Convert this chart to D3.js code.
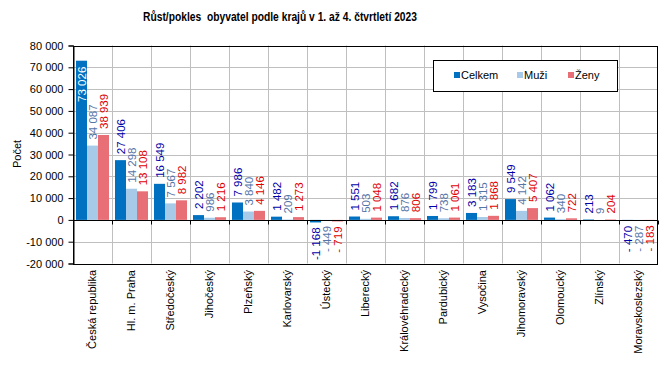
<!DOCTYPE html>
<html><head><meta charset="utf-8">
<script src="https://cdn.jsdelivr.net/npm/d3@7"></script>
<style>body{margin:0;background:#fff}svg{display:block}</style>
</head><body>
<script>
const categories = ["Česká republika","Hl. m. Praha","Středočeský","Jihočeský","Plzeňský","Karlovarský","Ústecký","Liberecký","Královéhradecký","Pardubický","Vysočina","Jihomoravský","Olomoucký","Zlínský","Moravskoslezský"];
const seriesNames = ["Celkem","Muži","Ženy"];
const celkem = [73026,27406,16549,2202,7986,1482,-1168,1551,1682,1799,3183,9549,1062,213,-470];
const muzi = [34087,14298,7567,986,3840,209,-449,503,876,738,1315,4142,340,9,-287];
const zeny = [38939,13108,8982,1216,4146,1273,-719,1048,806,1061,1868,5407,722,204,-183];
const yTicks = [-20000,-10000,0,10000,20000,30000,40000,50000,60000,70000,80000];
const title = "Růst/pokles  obyvatel podle krajů v 1. až 4. čtvrtletí 2023";
const yTitle = "Počet";

const W = 666, H = 370;
const L = 73, R = 658, T = 45.5, B = 263.5;
const colors = {"Celkem":"#0070C0","Muži":"#A6CAE8","Ženy":"#E96F77"};
const labelColors = {"Celkem":"#0000A8","Muži":"#5574A8","Ženy":"#E00000"};
const values = {"Celkem":celkem,"Muži":muzi,"Ženy":zeny};

const loc = d3.formatLocale({decimal:",",thousands:"\u00a0",grouping:[3],currency:["",""]});
const fmtAbs = loc.format(",d");
function fmt(v){
  if (v < 0) return Math.abs(v) < 1000 ? "- " + fmtAbs(-v) : "-" + fmtAbs(-v);
  return fmtAbs(v);
}

const svg = d3.select("body").append("svg").attr("width",W).attr("height",H)
  .style("font-family","'Liberation Sans', Arial, sans-serif");

const x0 = d3.scaleBand().domain(categories).range([L,R]).paddingInner(0.154).paddingOuter(0.077);
const x1 = d3.scaleBand().domain(seriesNames).range([0,x0.bandwidth()]);
const y = d3.scaleLinear().domain([-20000,80000]).range([B,T]);
const step = x0.step();

// gridlines
const g = svg.append("g");
g.selectAll("line.h").data(yTicks).join("line")
  .attr("x1",L).attr("x2",R).attr("y1",d=>Math.round(y(d))+0.5).attr("y2",d=>Math.round(y(d))+0.5)
  .attr("stroke","#BFBFBF").attr("stroke-width",1);
g.selectAll("line.v").data(categories.slice(1)).join("line")
  .attr("x1",d=>Math.round(x0(d)-x0.step()*0.077)+0.5).attr("x2",d=>Math.round(x0(d)-x0.step()*0.077)+0.5)
  .attr("y1",T).attr("y2",B).attr("stroke","#BFBFBF").attr("stroke-width",1);

// bars
const rows = categories.map((c,i)=>({c, vals: seriesNames.map(s=>({s, v: values[s][i], c}))}));
const grp = svg.selectAll("g.cat").data(rows).join("g").attr("transform",d=>`translate(${x0(d.c)},0)`);
grp.selectAll("rect").data(d=>d.vals).join("rect")
  .attr("x",d=>x1(d.s)).attr("width",x1.bandwidth())
  .attr("y",d=>y(Math.max(0,d.v))).attr("height",d=>Math.abs(y(d.v)-y(0)))
  .attr("fill",d=>colors[d.s]);

// frame
svg.append("rect").attr("x",L+0.5).attr("y",Math.round(T)+0.5).attr("width",R-L-1).attr("height",Math.round(B)-Math.round(T))
  .attr("fill","none").attr("stroke","#000").attr("stroke-width",1);

// y axis
const yAxis = d3.axisLeft(y).tickValues(yTicks).tickSize(5).tickPadding(5);
const ya = svg.append("g").attr("transform",`translate(${L+0.5},0)`).call(yAxis);
ya.select(".domain").attr("stroke","#000");
ya.selectAll(".tick line").attr("stroke","#000");
ya.selectAll("text").attr("font-size",11).attr("fill","#000").attr("font-family","'Liberation Sans', Arial, sans-serif")
  .text(d=>d<0 ? "-" + fmtAbs(-d) : fmtAbs(d));

// zero line with category ticks
const y0 = Math.round(y(0))+0.5;
svg.append("line").attr("x1",L).attr("x2",R).attr("y1",y0).attr("y2",y0).attr("stroke","#000");
const bounds = d3.range(categories.length+1).map(i=>L + i*step);
svg.selectAll("line.xt").data(bounds).join("line")
  .attr("x1",d=>Math.round(d)+0.5).attr("x2",d=>Math.round(d)+0.5).attr("y1",y0).attr("y2",y0+4).attr("stroke","#000");

// data labels
grp.selectAll("text").data(d=>d.vals).join("text")
  .attr("transform",d=>{
    const cx = x1(d.s)+x1.bandwidth()/2;
    let yy;
    if (d.v >= 0) { yy = (y(d.v) < 100) ? y(d.v)+6 : y(d.v)-6; }
    else yy = y(d.v)+5;
    return `translate(${cx},${yy}) rotate(-90)`;
  })
  .attr("text-anchor",d=> d.v>=0 ? (y(d.v)<100 ? "end":"start") : "end")
  .attr("dy","0.36em")
  .attr("font-size",11.5)
  .attr("fill",d=> (d.v>=0 && y(d.v)<100) ? "#fff" : labelColors[d.s])
  .text(d=>fmt(d.v));

// x labels
svg.selectAll("text.xl").data(categories).join("text")
  .attr("transform",d=>`translate(${x0(d)+x0.bandwidth()/2},270) rotate(-90)`)
  .attr("text-anchor","end").attr("dy","0.35em").attr("font-size",11).attr("fill","#000").text(d=>d);

// y title
svg.append("text").attr("transform","translate(17,154) rotate(-90)").attr("text-anchor","middle")
  .attr("dy","0.35em").attr("font-size",11).attr("fill","#000").text(yTitle);

// title
svg.append("text").attr("x",280).attr("y",21).attr("text-anchor","middle")
  .style("white-space","pre")
  .attr("textLength",274).attr("lengthAdjust","spacingAndGlyphs")
  .attr("font-weight","bold").attr("font-size",12.5).attr("fill","#000").text(title);

// legend
const lg = svg.append("g");
lg.append("rect").attr("x",433.5).attr("y",60.5).attr("width",184).attr("height",31).attr("fill","#fff").attr("stroke","#000");
const lx = [454,517,568];
seriesNames.forEach((s,i)=>{
  lg.append("rect").attr("x",lx[i]).attr("y",72).attr("width",6).attr("height",6).attr("fill",colors[s]);
  lg.append("text").attr("x",lx[i]+7).attr("y",75).attr("dy","0.35em").attr("font-size",11).attr("fill","#000").text(s);
});
</script>
</body></html>
